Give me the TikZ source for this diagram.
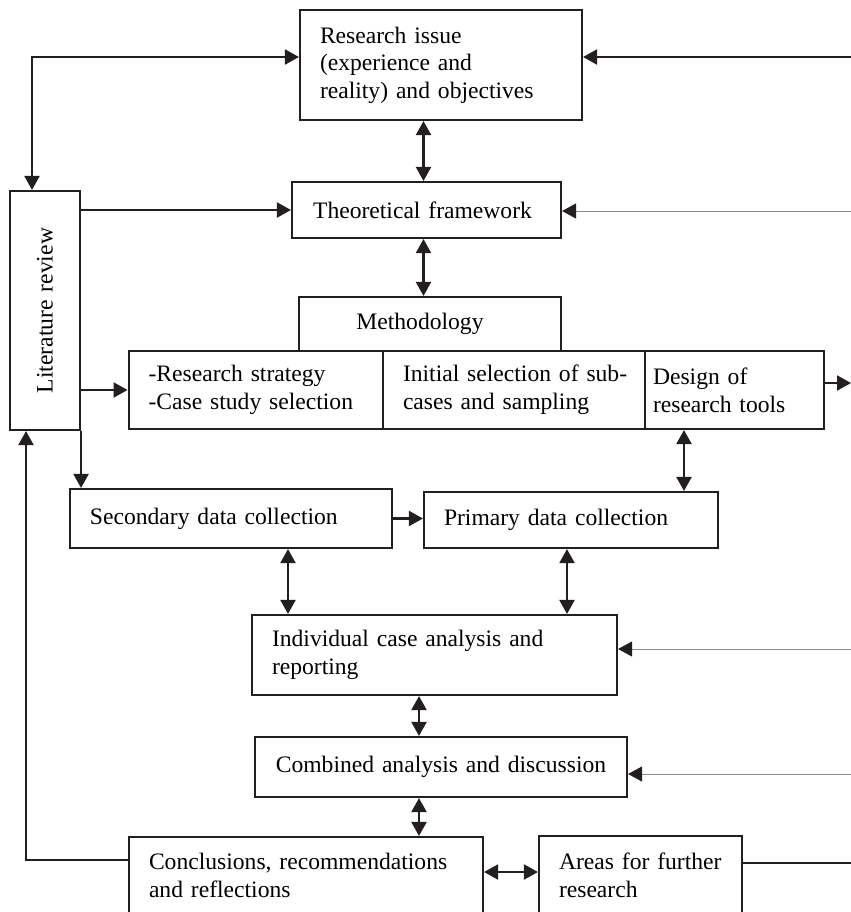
\documentclass[tikz,border=0pt]{standalone}
\usepackage{fontspec}
\setmainfont{Liberation Serif}
\usetikzlibrary{arrows.meta,calc}
\definecolor{ink}{RGB}{35,31,32}
\definecolor{thinline}{RGB}{140,140,140}
\newcommand{\nb}[1]{\mbox{#1}}
\begin{document}
\begin{tikzpicture}[x=0.5pt,y=-0.5pt,
  box/.style={draw=ink, line width=1.05pt, inner ysep=2pt, inner xsep=10pt,
    font=\fontsize{11.8}{13.8}\selectfont, align=left,
    execute at begin node={\hyphenpenalty=10000\exhyphenpenalty=10000}},
  cbox/.style={box, align=center, inner xsep=2pt},
  ln/.style={draw=ink, line width=1.05pt},
  arr/.style={ln, -{Triangle[length=7pt,width=7.5pt]}},
  darr/.style={ln, {Triangle[length=7pt,width=7.5pt]}-{Triangle[length=7pt,width=7.5pt]}},
  gr/.style={draw=thinline, line width=0.5pt, -{Triangle[length=7pt,width=7.5pt,color=ink]}}
]
\useasboundingbox (0,0) rectangle (851,912);

% boxes
\node[box, text width=121pt, minimum width=141pt, minimum height=55pt] (res) at (441,65)
  {\nb{Research issue}\\\nb{(experience and}\\\nb{reality) and objectives}};
\node[cbox, text width=130.5pt, minimum width=134.5pt, minimum height=28pt] (theo) at (426.5,210)
  {\nb{Theoretical framework\hspace{4pt}}};
\node[cbox, text width=127pt, minimum width=131pt, minimum height=27pt] (meth) at (430,324)
  {\nb{Methodology\hspace{10pt}}};
\node[box, text width=107.2pt, minimum width=127.2pt, minimum height=39pt] (cell1) at (255.8,390)
  {\nb{-Research strategy}\\\nb{-Case study selection}};
\node[box, text width=111pt, minimum width=131pt, minimum height=39pt] (cell2) at (514,390)
  {\nb{Initial selection of sub-}\\\nb{cases and sampling}};
\node[box, inner xsep=4pt, text width=81.5pt, minimum width=89.5pt, minimum height=39pt] (cell3) at (734.5,390)
  {\nb{Design of}\\\nb{research tools}};
\node[box, align=center, inner xsep=2pt, text width=31pt, minimum width=35pt, minimum height=119.5pt] (lit) at (45,310.5)
  {\rotatebox{90}{Literature review}};
\node[box, text width=141pt, minimum width=161pt, minimum height=29.5pt] (sec) at (231,518.5)
  {\nb{Secondary data collection}};
\node[box, text width=127pt, minimum width=147pt, minimum height=28pt] (prim) at (571,520)
  {\nb{Primary data collection}};
\node[box, text width=162.5pt, minimum width=182.5pt, minimum height=40pt] (ind) at (434.5,655)
  {\nb{Individual case analysis and}\\\nb{reporting}};
\node[cbox, text width=182pt, minimum width=186pt, minimum height=30pt] (comb) at (441,767)
  {\nb{Combined analysis and discussion}};
\node[box, text width=157pt, minimum width=177pt, minimum height=38.5pt] (conc) at (306,875.5)
  {\nb{Conclusions, recommendations}\\\nb{and reflections}};
\node[box, text width=81.5pt, minimum width=101.5pt, minimum height=39pt] (areas) at (640.5,875)
  {\nb{Areas for further}\\\nb{research}};

% guide coordinates
\coordinate (rA) at (851,57);
\coordinate (rB) at (851,211);
\coordinate (rC) at (851,383);
\coordinate (rD) at (851,649);
\coordinate (rE) at (851,774);
\coordinate (rF) at (851,863);
\coordinate (cTL) at (32,57);
\coordinate (cBL) at (26,860);
\coordinate (hC) at (0,872);
\coordinate (v1) at (423.5,0);
\coordinate (v3) at (684,0);
\coordinate (v4) at (288,0);
\coordinate (v5) at (567,0);
\coordinate (v6) at (419,0);

% connectors
\draw[arr] (rA) -- (rA -| res.east);
\draw[darr] (cTL -| res.west) -- (cTL) -- (cTL |- lit.north);
\draw[arr] (lit.east |- theo.west) -- (theo.west);
\draw[gr] (rB) -- (rB -| theo.east);
\draw[darr] (res.south -| v1) -- (theo.north -| v1);
\draw[darr] (theo.south -| v1) -- (meth.north -| v1);
\draw[arr] (lit.east |- cell1.west) -- (cell1.west);
\draw[arr] (cell3.east |- rC) -- (rC);
\draw[arr] (lit.south east) -- (lit.south east |- sec.north);
\draw[arr] (sec.east) -- (sec.east -| prim.west);
\draw[darr] (cell3.south -| v3) -- (prim.north -| v3);
\draw[darr] (sec.south -| v4) -- (ind.north -| v4);
\draw[darr] (prim.south -| v5) -- (ind.north -| v5);
\draw[gr] (rD) -- (rD -| ind.east);
\draw[darr] (ind.south -| v6) -- (comb.north -| v6);
\draw[gr] (rE) -- (rE -| comb.east);
\draw[darr] (comb.south -| v6) -- (conc.north -| v6);
\draw[darr] (hC -| conc.east) -- (hC -| areas.west);
\draw[ln] (rF -| areas.east) -- (rF);
\draw[arr] (cBL -| conc.west) -- (cBL) -- (cBL |- lit.south);
\end{tikzpicture}
\end{document}
